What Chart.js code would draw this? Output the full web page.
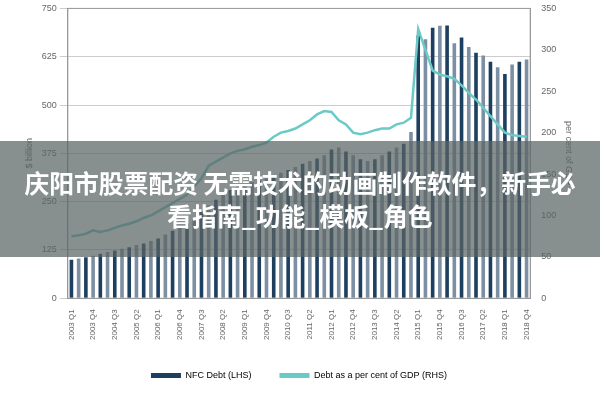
<!DOCTYPE html>
<html><head><meta charset="utf-8">
<script src="https://cdn.jsdelivr.net/npm/chart.js@4/dist/chart.umd.min.js"></script>
<style>
body{margin:0;background:#fff;font-family:"Open Sans",sans-serif}
#w{position:relative;width:600px;height:400px}
#b{position:absolute;left:0;top:141px;width:600px;height:116px;background:rgba(90,100,100,0.72);color:#fff;font-family:"Noto Sans CJK SC";font-size:24.8px;font-weight:bold;line-height:33px;text-align:center;display:flex;align-items:center;justify-content:center;padding:0 2px;box-sizing:border-box;white-space:nowrap}
</style></head><body>
<div id="w"><canvas id="c" width="600" height="400"></canvas>
<div id="b">庆阳市股票配资 无需技术的动画制作软件，新手必<br>看指南_功能_模板_角色</div></div>
<script>
const years=[2003,2004,2005,2006,2007,2008,2009,2010,2011,2012,2013,2014,2015,2016,2017,2018];
const categories=[];years.forEach(y=>{for(let q=1;q<=4;q++)categories.push(y+' Q'+q);});
const nfcDebt=[100,103,106,110,115,120,124,128,132,138,142,148,155,165,175,185,195,210,225,240,255,268,280,290,295,300,305,310,318,325,332,340,348,355,362,370,385,390,380,370,360,355,360,370,380,390,400,430,680,670,700,705,706,660,675,650,635,628,612,598,580,605,612,618];
const debtGdp=[75,76,78,82,80,82,85,88,90,93,97,100,105,110,115,120,125,135,145,160,165,170,175,178,180,183,185,188,195,200,202,205,210,215,222,226,225,215,210,200,198,200,203,205,205,210,212,218,325,300,275,270,268,265,257,248,240,230,220,210,200,197,196,195];
const barColors=nfcDebt.map((v,i)=>i%2?'#7d8fa3':'#1d3f60');
const frame={id:'frame',afterDraw(ch){const a=ch.chartArea,c=ch.ctx;c.save();c.strokeStyle='#999';c.lineWidth=1;c.strokeRect(a.left,a.top,a.right-a.left,a.bottom-a.top);c.restore();}};
new Chart(document.getElementById('c'),{
 plugins:[frame],
 data:{labels:categories,datasets:[
  {type:'bar',label:'NFC Debt (LHS)',data:nfcDebt,yAxisID:'y',backgroundColor:barColors,barPercentage:0.5,categoryPercentage:1,order:2},
  {type:'line',label:'Debt as a per cent of GDP (RHS)',data:debtGdp,yAxisID:'y1',borderColor:'#6ccac6',borderWidth:2.5,pointRadius:0,tension:0,order:1}
 ]},
 options:{responsive:false,animation:false,
  layout:{padding:{left:20,right:22,top:6,bottom:10}},
  plugins:{legend:{position:'bottom',labels:{color:'#666',font:{size:9},boxWidth:30,boxHeight:5,padding:28,
    generateLabels:ch=>[{text:'NFC Debt (LHS)',fillStyle:'#1d3f60',strokeStyle:'#1d3f60',lineWidth:0,datasetIndex:0},{text:'Debt as a per cent of GDP (RHS)',fillStyle:'#6ccac6',strokeStyle:'#6ccac6',lineWidth:0,datasetIndex:1}]}},tooltip:{enabled:false}},
  scales:{
   x:{grid:{display:false},border:{color:'#999'},ticks:{color:'#666',font:{size:8},maxRotation:90,minRotation:90,autoSkip:false,callback:(v,i)=>i%3===0?categories[i]:''}},
   y:{min:0,max:750,ticks:{stepSize:125,color:'#666',font:{size:9}},grid:{color:'#ccc'},border:{color:'#999'},title:{display:true,text:'$ billion',color:'#666',font:{size:9}}},
   y1:{position:'right',min:0,max:350,ticks:{stepSize:50,color:'#666',font:{size:9}},grid:{display:false},border:{color:'#999'},title:{display:true,text:'per cent of GDP',color:'#666',font:{size:9}}}
  }}
});
</script></body></html>
